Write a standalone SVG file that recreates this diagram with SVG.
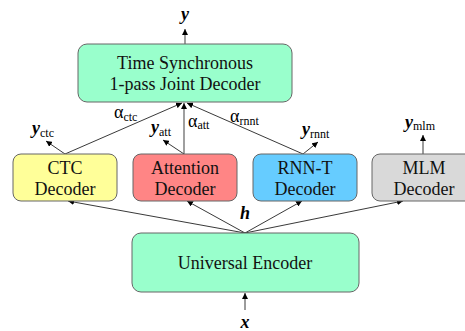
<svg xmlns="http://www.w3.org/2000/svg" width="465" height="331" viewBox="0 0 465 331">
<defs>
<marker id="ah" viewBox="0 0 10 10" refX="10" refY="5" markerWidth="6" markerHeight="6" markerUnits="userSpaceOnUse" orient="auto">
<path d="M0,0 L10,5 L0,10 z" fill="#000"/>
</marker>
<style>
.box{stroke:#666;stroke-width:1}
text{font-family:'Liberation Serif','Times New Roman',Tinos,'DejaVu Serif',serif}
.t{font-size:18px;fill:#111;text-anchor:middle}
.v{font-size:18px;font-weight:bold;font-style:italic;fill:#000}
.a{font-size:18px;fill:#000}
.s{font-size:12px;fill:#000;font-weight:normal;font-style:normal}
.ln{stroke:#222;stroke-width:0.9;fill:none;marker-end:url(#ah)}
.gl{stroke:#888;stroke-width:1.6;fill:none;marker-end:url(#ah)}
</style>
</defs>
<g id="connectors">
<line class="gl" x1="185" y1="44" x2="185" y2="29"/>
<line class="ln" x1="65" y1="154" x2="182" y2="103"/>
<line class="gl" x1="184" y1="154" x2="184" y2="103"/>
<line class="ln" x1="303" y1="154" x2="187" y2="103"/>
<line class="ln" x1="65" y1="154" x2="46" y2="141"/>
<line class="ln" x1="184" y1="154" x2="163" y2="140"/>
<line class="ln" x1="303" y1="154" x2="318" y2="142"/>
<line class="ln" x1="423" y1="154" x2="423" y2="135"/>
<line class="ln" x1="245" y1="233" x2="68" y2="201"/>
<line class="ln" x1="245" y1="233" x2="187" y2="201"/>
<line class="ln" x1="245" y1="233" x2="302" y2="201"/>
<line class="ln" x1="245" y1="233" x2="403" y2="201"/>
<line class="ln" x1="245" y1="310" x2="245" y2="293"/>
</g>
<g id="labels">
<text class="v" x="185" y="20" text-anchor="middle">y</text>
<text class="v" x="32" y="134">y<tspan class="s" dy="3">ctc</tspan></text>
<text class="v" x="151" y="133">y<tspan class="s" dy="3">att</tspan></text>
<text class="v" x="302" y="135">y<tspan class="s" dy="3">rnnt</tspan></text>
<text class="v" x="405" y="128">y<tspan class="s" dy="2">mlm</tspan></text>
<text class="a" x="114" y="118">α<tspan class="s" dy="3">ctc</tspan></text>
<text class="a" x="188" y="127">α<tspan class="s" dy="2">att</tspan></text>
<text class="a" x="230" y="122">α<tspan class="s" dy="3">rnnt</tspan></text>
<text class="v" x="245" y="219" text-anchor="middle">h</text>
<text class="v" x="245" y="328" text-anchor="middle">x</text>
</g>
<g id="joint">
<rect class="box" x="78" y="44" width="214" height="58" rx="9" fill="#99FFCC"/>
<text class="t" x="185" y="69">Time Synchronous</text>
<text class="t" x="185" y="90">1-pass Joint Decoder</text>
</g>
<g id="ctc">
<rect class="box" x="13" y="154" width="104" height="47" rx="8" fill="#FFFF99"/>
<text class="t" x="65" y="174">CTC</text>
<text class="t" x="65" y="195">Decoder</text>
</g>
<g id="attention">
<rect class="box" x="133" y="154" width="104" height="47" rx="8" fill="#FF8585"/>
<text class="t" x="185" y="174">Attention</text>
<text class="t" x="185" y="195">Decoder</text>
</g>
<g id="rnnt">
<rect class="box" x="253" y="154" width="104" height="47" rx="8" fill="#66CCFF"/>
<text class="t" x="305" y="174">RNN-T</text>
<text class="t" x="305" y="195">Decoder</text>
</g>
<g id="mlm">
<rect class="box" x="372" y="154" width="104" height="47" rx="8" fill="#D9D9D9"/>
<text class="t" x="424" y="174">MLM</text>
<text class="t" x="424" y="195">Decoder</text>
</g>
<g id="encoder">
<rect class="box" x="132" y="233" width="227" height="59" rx="9" fill="#99FFCC"/>
<text class="t" x="245" y="269">Universal Encoder</text>
</g>
</svg>
